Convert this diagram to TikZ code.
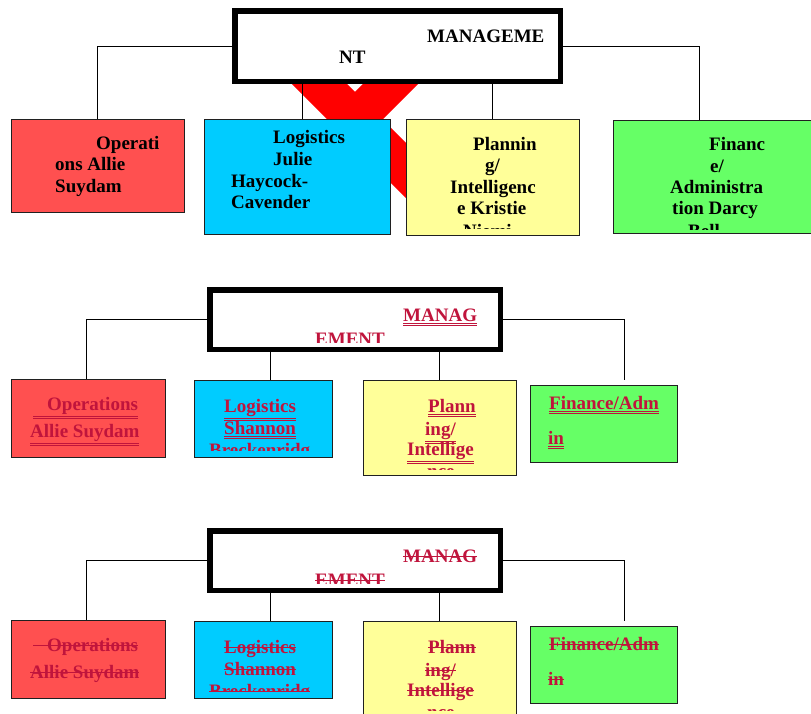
\documentclass[tikz,border=0pt]{standalone}
\usepackage{fontspec}
\setmainfont{Liberation Serif}
\usepackage{xcolor}
\usepackage{tikz}
\newsavebox{\strkbox}
\newcommand{\dul}[1]{\leavevmode\vtop{\hbox{#1}\kern1.6pt\hrule height 1.3pt\kern1pt\hrule height 0.7pt}}
\newcommand{\strk}[1]{\sbox{\strkbox}{#1}\rlap{\usebox{\strkbox}}\rule[0.26em]{\wd\strkbox}{1.1pt}}
\definecolor{opsred}{HTML}{FF5050}
\definecolor{logcyan}{HTML}{00CCFF}
\definecolor{planyellow}{HTML}{FFFF99}
\definecolor{fingreen}{HTML}{66FF66}
\definecolor{edit}{HTML}{C0143C}
\definecolor{boxline}{HTML}{202020}

\begin{document}
\begin{tikzpicture}[x=1pt,y=-1pt,
        box/.style={draw=boxline, line width=0.9pt, anchor=north west, inner sep=0pt, outer sep=0pt},
        head/.style={draw=black, line width=5.5pt, fill=white, anchor=north west, inner sep=0pt, outer sep=0pt},
        txt/.style={anchor=base west, inner sep=0pt, font=\fontsize{19}{22}\selectfont\bfseries},
        edit/.style={txt, text=edit},
        wire/.style={draw=black, line width=0.9pt}]
    \useasboundingbox[fill=white] (0,0) rectangle (811,713);

    % first chart
    \draw[red, line width=39pt] (290,54.5) -- (440,204.5);
    \draw[red, line width=39pt] (420,54.5) -- (310,164.5);

    \node[head]                       (mgmt_1) at (234.75,10.75) [minimum width=325.5pt, minimum height=70.5pt] {};
    \node[box, fill=opsred]           (ops_1)  at (11,119)   [minimum width=173pt, minimum height=93pt]  {};
    \node[box, fill=logcyan]          (log_1)  at (204,119)  [minimum width=186pt, minimum height=115pt] {};
    \node[box, fill=planyellow]       (plan_1) at (406,119)  [minimum width=173pt, minimum height=116pt] {};
    \node[box, fill=fingreen]         (fin_1)  at (613,120)  [minimum width=210pt, minimum height=113pt] {};

    \node[txt] (mgmt_1a) at (427,42) {MANAGEME};
    \node[txt] (mgmt_1b) at (339,63) {NT};
    \node[txt] (ops_1a) at (96,149) {Operati};
    \node[txt] (ops_1b) at (55,170) {ons Allie};
    \node[txt] (ops_1c) at (55,192) {Suydam};
    \node[txt] (log_1a) at (273,143) {Logistics};
    \node[txt] (log_1b) at (273,165) {Julie};
    \node[txt] (log_1c) at (231,187) {Haycock-};
    \node[txt] (log_1d) at (231,208) {Cavender};
    \begin{scope}
        \clip (plan_1.north west) rectangle ([yshift=6.5pt]plan_1.south east);
        \node[txt] (plan_1a) at (473,150) {Plannin};
        \node[txt] (plan_1b) at (485,171) {g/};
        \node[txt] (plan_1c) at (450,193) {Intelligenc};
        \node[txt] (plan_1d) at (457,214) {e Kristie};
        \node[txt] (plan_1e) at (463,237) {Niemi};
    \end{scope}
    \begin{scope}
        \clip (fin_1.north west) rectangle ([yshift=3.5pt]fin_1.south east);
        \node[txt] (fin_1a) at (709,150) {Financ};
        \node[txt] (fin_1b) at (710,172) {e/};
        \node[txt] (fin_1c) at (670,193) {Administra};
        \node[txt] (fin_1d) at (672,214) {tion Darcy};
        \node[txt] (fin_1e) at (688,237.5) {Bell};
    \end{scope}

    \draw[wire] (mgmt_1.west) -| (ops_1.north);
    \draw[wire] (mgmt_1.east) -| ([xshift=86pt]fin_1.north west);
    \draw[wire] ([xshift=5pt]log_1.north) -- ([xshift=5pt]log_1.north |- mgmt_1.south);
    \draw[wire] (plan_1.north) -- (plan_1.north |- mgmt_1.south);

    % second chart, underlined
    \node[head]                       (mgmt_2) at (209.75,289.75) [minimum width=290.5pt, minimum height=59.5pt] {};
    \node[box, fill=opsred]           (ops_2)  at (11,379)   [minimum width=154pt, minimum height=78pt] {};
    \node[box, fill=logcyan]          (log_2)  at (194,380)  [minimum width=138pt, minimum height=77pt] {};
    \node[box, fill=planyellow]       (plan_2) at (363,380)  [minimum width=153pt, minimum height=95pt] {};
    \node[box, fill=fingreen]         (fin_2)  at (530,385)  [minimum width=147pt, minimum height=77pt] {};
    \coordinate (fin_2in) at ([xshift=94pt, yshift=5pt]fin_2.north west);

    \begin{scope}
        \clip ([xshift=3pt, yshift=-3pt]mgmt_2.north west) rectangle ([xshift=-3pt, yshift=7pt]mgmt_2.south east);
        \node[edit] (mgmt_2a) at (403,321) {\dul{MANAG}};
        \node[edit] (mgmt_2b) at (315,345) {\dul{EMENT}};
    \end{scope}
    \node[edit] (ops_2a) at (33,410) {\dul{\hspace*{14pt}Operations}};
    \node[edit] (ops_2b) at (30,437) {\dul{Allie Suydam}};
    \begin{scope}
        \clip (log_2.north west) rectangle ([yshift=7pt]log_2.south east);
        \node[edit] (log_2a) at (224,412) {\dul{Logistics}};
        \node[edit] (log_2b) at (224,434) {\dul{Shannon}};
        \node[edit] (log_2c) at (209,456) {\dul{Breckenridg}};
    \end{scope}
    \begin{scope}
        \clip (plan_2.north west) rectangle ([yshift=6pt]plan_2.south east);
        \node[edit] (plan_2a) at (428,412) {\dul{Plann}};
        \node[edit] (plan_2b) at (425,435) {\dul{ing/}};
        \node[edit] (plan_2c) at (407,455) {\dul{Intellige}};
        \node[edit] (plan_2d) at (427,477) {\dul{nce}};
    \end{scope}
    \node[edit] (fin_2a) at (549,409) {\dul{Finance/Adm}};
    \node[edit] (fin_2b) at (548,444) {\dul{in}};

    \draw[wire] (mgmt_2.west) -| ([xshift=-2pt]ops_2.north);
    \draw[wire] (mgmt_2.east) -| (fin_2in);
    \draw[wire] ([xshift=7pt]log_2.north) -- ([xshift=7pt]log_2.north |- mgmt_2.south);
    \draw[wire] (plan_2.north) -- (plan_2.north |- mgmt_2.south);

    % third chart, struck out
    \node[head]                       (mgmt_3) at (209.75,530.75) [minimum width=290.5pt, minimum height=59.5pt] {};
    \node[box, fill=opsred]           (ops_3)  at (11,620)   [minimum width=154pt, minimum height=78pt] {};
    \node[box, fill=logcyan]          (log_3)  at (194,621)  [minimum width=138pt, minimum height=77pt] {};
    \node[box, fill=planyellow]       (plan_3) at (363,621)  [minimum width=153pt, minimum height=95pt] {};
    \node[box, fill=fingreen]         (fin_3)  at (530,626)  [minimum width=147pt, minimum height=77pt] {};
    \coordinate (fin_3in) at ([xshift=94pt, yshift=5pt]fin_3.north west);

    \begin{scope}
        \clip ([xshift=3pt, yshift=-3pt]mgmt_3.north west) rectangle ([xshift=-3pt, yshift=7pt]mgmt_3.south east);
        \node[edit] (mgmt_3a) at (403,562) {\strk{MANAG}};
        \node[edit] (mgmt_3b) at (315,586) {\strk{EMENT}};
    \end{scope}
    \node[edit] (ops_3a) at (33,651) {\strk{\hspace*{14pt}Operations}};
    \node[edit] (ops_3b) at (30,678) {\strk{Allie Suydam}};
    \begin{scope}
        \clip (log_3.north west) rectangle ([yshift=7pt]log_3.south east);
        \node[edit] (log_3a) at (224,653) {\strk{Logistics}};
        \node[edit] (log_3b) at (224,675) {\strk{Shannon}};
        \node[edit] (log_3c) at (209,697) {\strk{Breckenridg}};
    \end{scope}
    \begin{scope}
        \clip (plan_3.north west) rectangle ([yshift=6pt]plan_3.south east);
        \node[edit] (plan_3a) at (428,653) {\strk{Plann}};
        \node[edit] (plan_3b) at (425,676) {\strk{ing/}};
        \node[edit] (plan_3c) at (407,696) {\strk{Intellige}};
        \node[edit] (plan_3d) at (427,718) {\strk{nce}};
    \end{scope}
    \node[edit] (fin_3a) at (549,650) {\strk{Finance/Adm}};
    \node[edit] (fin_3b) at (548,685) {\strk{in}};

    \draw[wire] (mgmt_3.west) -| ([xshift=-2pt]ops_3.north);
    \draw[wire] (mgmt_3.east) -| (fin_3in);
    \draw[wire] ([xshift=7pt]log_3.north) -- ([xshift=7pt]log_3.north |- mgmt_3.south);
    \draw[wire] (plan_3.north) -- (plan_3.north |- mgmt_3.south);
\end{tikzpicture}
\end{document}
